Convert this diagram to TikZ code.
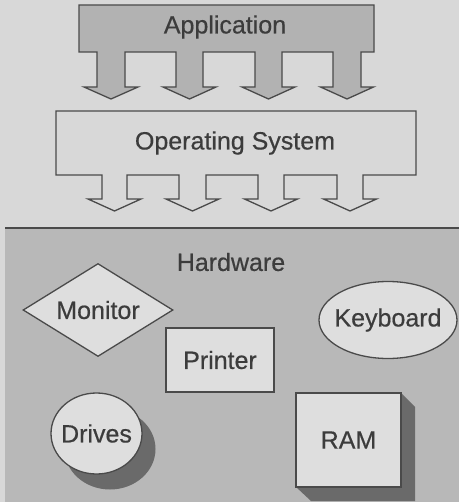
\documentclass[tikz,border=0pt]{standalone}
\usepackage{fontspec}
\setmainfont{Liberation Sans}
\newfontfamily\heavyfont{Liberation Sans}[FakeBold=0.5]
\usetikzlibrary{shapes.geometric,shadows}
\definecolor{bgc}{HTML}{D8D8D8}
\definecolor{appc}{HTML}{B2B2B2}
\definecolor{hwc}{HTML}{B8B8B8}
\definecolor{shapec}{HTML}{DEDEDE}
\definecolor{linec}{HTML}{4A4A4A}
\definecolor{txtc}{HTML}{3C3C3C}
\definecolor{shadc}{HTML}{6A6A6A}
\begin{document}
\begin{tikzpicture}[x=1pt,y=-1pt,
  lbl/.style={text=txtc,font=\heavyfont\fontsize{25}{30}\selectfont,inner sep=0pt},
  outl/.style={draw=linec,line width=1.3pt,line join=miter},
  hwshape/.style={outl,fill=shapec,text=txtc,font=\heavyfont\fontsize{25}{30}\selectfont,inner sep=0pt}]
\useasboundingbox (0,0) rectangle (459,502);
\fill[bgc] (0,0) rectangle (459,502);
% Application block with arrows
\draw[outl,fill=appc] (79,5) -- (374,5) -- (374,52) -- (361,52) -- (361,87) -- (373.5,87) -- (347,99) -- (320.5,87) -- (333,87) -- (333,52)
 -- (282,52) -- (282,87) -- (295,87) -- (268.5,99) -- (242,87) -- (255,87) -- (255,52)
 -- (203,52) -- (203,87) -- (216,87) -- (189.5,99) -- (163,87) -- (176,87) -- (176,52)
 -- (125,52) -- (125,87) -- (138,87) -- (111,99) -- (84,87) -- (97,87) -- (97,52) -- (79,52) -- cycle;
\node[lbl] (app) at (225,27) {Application};
% Operating system block with arrows
\draw[outl,fill=bgc] (56,111) -- (416,111) -- (416,175) -- (363,175) -- (363,199) -- (376.5,199) -- (350,211) -- (323.5,199) -- (337,199) -- (337,175)
 -- (284,175) -- (284,199) -- (297.5,199) -- (271,211) -- (244.5,199) -- (258,199) -- (258,175)
 -- (206,175) -- (206,199) -- (219,199) -- (192.5,211) -- (166,199) -- (179,199) -- (179,175)
 -- (127,175) -- (127,199) -- (141,199) -- (114.5,211) -- (88,199) -- (102,199) -- (102,175) -- (56,175) -- cycle;
\node[lbl] (os) at (235,143) {Operating System};
% Hardware panel
\fill[hwc] (5,228) rectangle (459,502);
\draw[linec,line width=2pt] (5,228) -- (459,228);
\node[lbl] (hw) at (231,262) {Hardware};
% Monitor
\node[hwshape,diamond,minimum width=150pt,minimum height=93pt,aspect=1.6] (mon) at (98,310) {Monitor};
% Keyboard
\node[hwshape,ellipse,minimum width=138pt,minimum height=77pt,inner xsep=-6pt] (kbd) at (388,320) {Keyboard};
% Printer
\node[hwshape,rectangle,minimum width=108pt,minimum height=64pt] (prn) at (220,360) {Printer};
% Drives with shadow
\fill[shadc] (110,449) ellipse [x radius=45.5pt, y radius=40.5pt];
\node[hwshape,ellipse,minimum width=91pt,minimum height=81pt,inner xsep=-6pt] (drv) at (96.5,433.5) {Drives};
% RAM with shadow
\fill[shadc] (401,393) -- (415,407) -- (415,501) -- (311,501) -- (296,487) -- cycle;
\node[hwshape,rectangle,minimum width=105pt,minimum height=94pt] (ram) at (348.5,440) {RAM};
\end{tikzpicture}
\end{document}
